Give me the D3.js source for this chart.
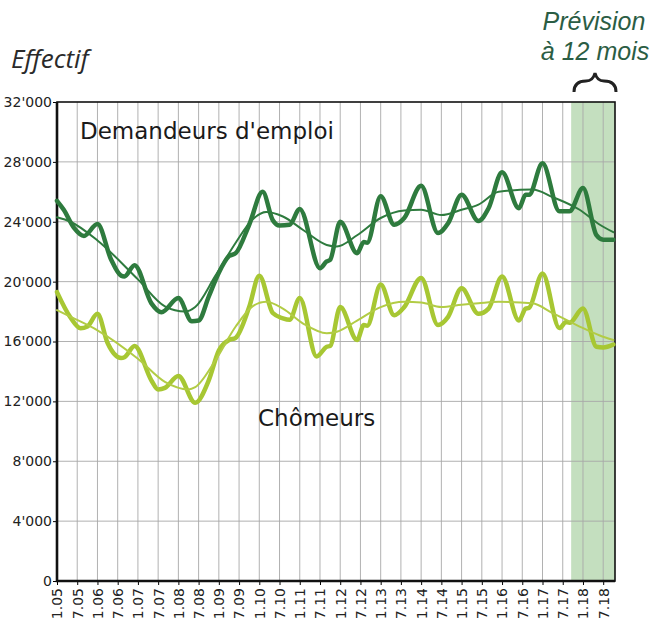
<!DOCTYPE html>
<html>
<head>
<meta charset="utf-8">
<script src="https://cdn.jsdelivr.net/npm/d3@7"></script>
<style>
  body { margin: 0; background: #fff; }
</style>
</head>
<body>
<div id="chart"></div>
<script>
let width = 659;
let height = 624;

// Tick values and labels
const yTicks = [0, 4000, 8000, 12000, 16000, 20000, 24000, 28000, 32000];
const xLabels = ["1.05","7.05","1.06","7.06","1.07","7.07","1.08","7.08","1.09","7.09",
  "1.10","7.10","1.11","7.11","1.12","7.12","1.13","7.13","1.14","7.14",
  "1.15","7.15","1.16","7.16","1.17","7.17","1.18","7.18"];

// Demandeurs d'emploi (months since jan 2005)
const demMonths = [0,2,5,8,12,16,19,20,23,28,31,36,40,42,45,48,51,53,57,61,64,66,69,72,78,80,81,
  84,89,91,92,96,100,103,108,113,116,120,125,128,132,137,139,140,144,149,152,156,160,162,165];
const demValues = [25400,24800,23600,23050,23850,21500,20400,20350,21100,18550,17950,18900,17350,17400,
  19000,20600,21700,21900,23800,26000,24100,23750,23800,24850,20900,21350,21450,
  24000,21900,22650,22600,25700,23800,24250,26400,23250,23900,25800,24050,24900,27300,24900,25800,25800,
  27900,24700,24700,26250,23100,22800,22800];
const demTrendMonths = [0,4,12,24,32,38,41,47,53,58,62,67,73,80,83,89,96,103,108,114,120,125,131,141,147,155,161,165];
const demTrendValues = [24300,24000,22750,20150,18350,18000,18300,20400,22600,24150,24650,24350,23450,22450,
  22350,23100,24250,24750,24800,24450,24800,25150,26000,26150,25650,24800,23800,23300];

// Chômeurs
const chomMonths = [0,4,7,9,12,15,19,20,23,28,30,32,36,41,45,48,51,53,57,60,64,67,69,72,77,80,81,
  84,89,91,92,96,100,103,108,113,116,120,125,128,132,137,139,140,144,149,151,152,156,160,162,165];
const chomValues = [19300,17600,16880,17000,17850,15900,14900,14950,15700,13400,12800,12900,13700,11900,
  13400,15400,16100,16250,18300,20400,17900,17550,17450,18900,15000,15650,15700,
  18300,16100,17100,17050,19800,17750,18300,20250,17100,17650,19550,17850,18200,20350,17400,18200,18250,
  20550,16900,17300,17250,18200,15650,15600,15800];
const chomTrendMonths = [0,5,12,24,32,39,41,47,53,58,62,67,73,80,83,89,96,103,108,114,120,125,131,141,147,155,161,165];
const chomTrendValues = [18100,17550,16750,14850,13300,12800,12950,14750,17000,18350,18650,18200,17200,16550,
  16650,17400,18300,18650,18600,18300,18450,18550,18650,18550,17900,17000,16400,16100];

const forecastStart = 152.5;

let svg = d3.select("#chart").append("svg")
  .attr("width", width)
  .attr("height", height)
  .style("font-family", "DejaVu Sans, sans-serif");

let x = d3.scaleLinear().domain([0, 165.5]).range([57, 615]);
let y = d3.scaleLinear().domain([0, 32000]).range([581, 102]);

function labelMonth(s) {
  let p = s.split(".");
  return (+p[1] - 5) * 12 + (+p[0] - 1);
}

// forecast band
svg.append("rect")
  .attr("x", x(forecastStart))
  .attr("y", y(32000))
  .attr("width", x(165.5) - x(forecastStart))
  .attr("height", y(0) - y(32000))
  .attr("fill", "#c4dfbf");

// grid
svg.append("g")
  .selectAll("line")
  .data(xLabels.slice(1))
  .enter().append("line")
  .attr("x1", d => x(labelMonth(d)))
  .attr("x2", d => x(labelMonth(d)))
  .attr("y1", y(0))
  .attr("y2", y(32000))
  .attr("stroke", "#a8a8a8")
  .attr("stroke-width", 0.9);

svg.append("g")
  .selectAll("line")
  .data(yTicks.slice(1, -1))
  .enter().append("line")
  .attr("x1", x(0))
  .attr("x2", x(165.5))
  .attr("y1", d => y(d))
  .attr("y2", d => y(d))
  .attr("stroke", "#a8a8a8")
  .attr("stroke-width", 0.9);

// axes
let fmt = v => d3.format(",")(v).replace(/,/g, "'");
let yAxis = svg.append("g")
  .attr("transform", `translate(${x(0)},0)`)
  .call(d3.axisLeft(y).tickValues(yTicks).tickFormat(fmt).tickSize(4).tickPadding(1));
yAxis.select(".domain").remove();
yAxis.selectAll("text").attr("font-size", 14).attr("fill", "#222").attr("font-family", "DejaVu Sans");

let xAxis = svg.append("g")
  .attr("transform", `translate(0,${y(0)})`)
  .call(d3.axisBottom(x).tickValues(xLabels.map(labelMonth))
    .tickFormat((d, i) => xLabels[i]).tickSize(4));
xAxis.select(".domain").remove();
xAxis.selectAll("text")
  .attr("font-size", 14)
  .attr("fill", "#222")
  .attr("font-family", "DejaVu Sans")
  .attr("transform", "rotate(-90)")
  .attr("text-anchor", "end")
  .attr("x", -7)
  .attr("y", 0)
  .attr("dy", "0.35em");

// frame
svg.append("rect")
  .attr("x", x(0)).attr("y", y(32000))
  .attr("width", x(165.5) - x(0)).attr("height", y(0) - y(32000))
  .attr("fill", "none").attr("stroke", "#111").attr("stroke-width", 1.6);
svg.append("path")
  .attr("d", `M${x(0)},${y(32000)}V${y(0)}H${x(165.5)}`)
  .attr("fill", "none").attr("stroke", "#111").attr("stroke-width", 2.6);

// lines
function drawLine(months, values, color, w) {
  let line = d3.line()
    .x((d, i) => x(months[i]))
    .y(d => y(d))
    .curve(d3.curveMonotoneX);
  svg.append("path")
    .datum(values)
    .attr("d", line)
    .attr("fill", "none")
    .attr("stroke", color)
    .attr("stroke-width", w)
    .attr("stroke-linejoin", "round")
    .attr("stroke-linecap", "round");
}
drawLine(chomMonths, chomValues, "#a7c733", 4.5);
drawLine(chomTrendMonths, chomTrendValues, "#b2cc45", 2);
drawLine(demMonths, demValues, "#2e7b3e", 4.5);
drawLine(demTrendMonths, demTrendValues, "#2e7b3e", 2);

// texts
svg.append("text").attr("x", 80).attr("y", 139)
  .attr("font-size", 23).attr("fill", "#1a1a1a")
  .text("Demandeurs d'emploi");
svg.append("text").attr("x", 258).attr("y", 426)
  .attr("font-size", 23).attr("fill", "#1a1a1a")
  .text("Chômeurs");
svg.append("text").attr("x", 11).attr("y", 68)
  .attr("font-size", 26).attr("font-style", "italic").attr("fill", "#2a2a2a")
  .attr("font-family", "Open Sans")
  .text("Effectif");

let prev = svg.append("text")
  .attr("text-anchor", "middle")
  .attr("font-family", "Liberation Sans")
  .attr("font-style", "italic")
  .attr("font-size", 25)
  .attr("fill", "#2b5d44");
prev.append("tspan").attr("x", 594).attr("y", 30).text("Prévision");
prev.append("tspan").attr("x", 595).attr("y", 60).text("à 12 mois");

// brace
svg.append("path")
  .attr("d", "M574,92 Q574,81 586,81 Q593,81 595,73 Q597,81 604,81 Q616,81 616,92")
  .attr("fill", "none")
  .attr("stroke", "#222")
  .attr("stroke-width", 3);
</script>
</body>
</html>
